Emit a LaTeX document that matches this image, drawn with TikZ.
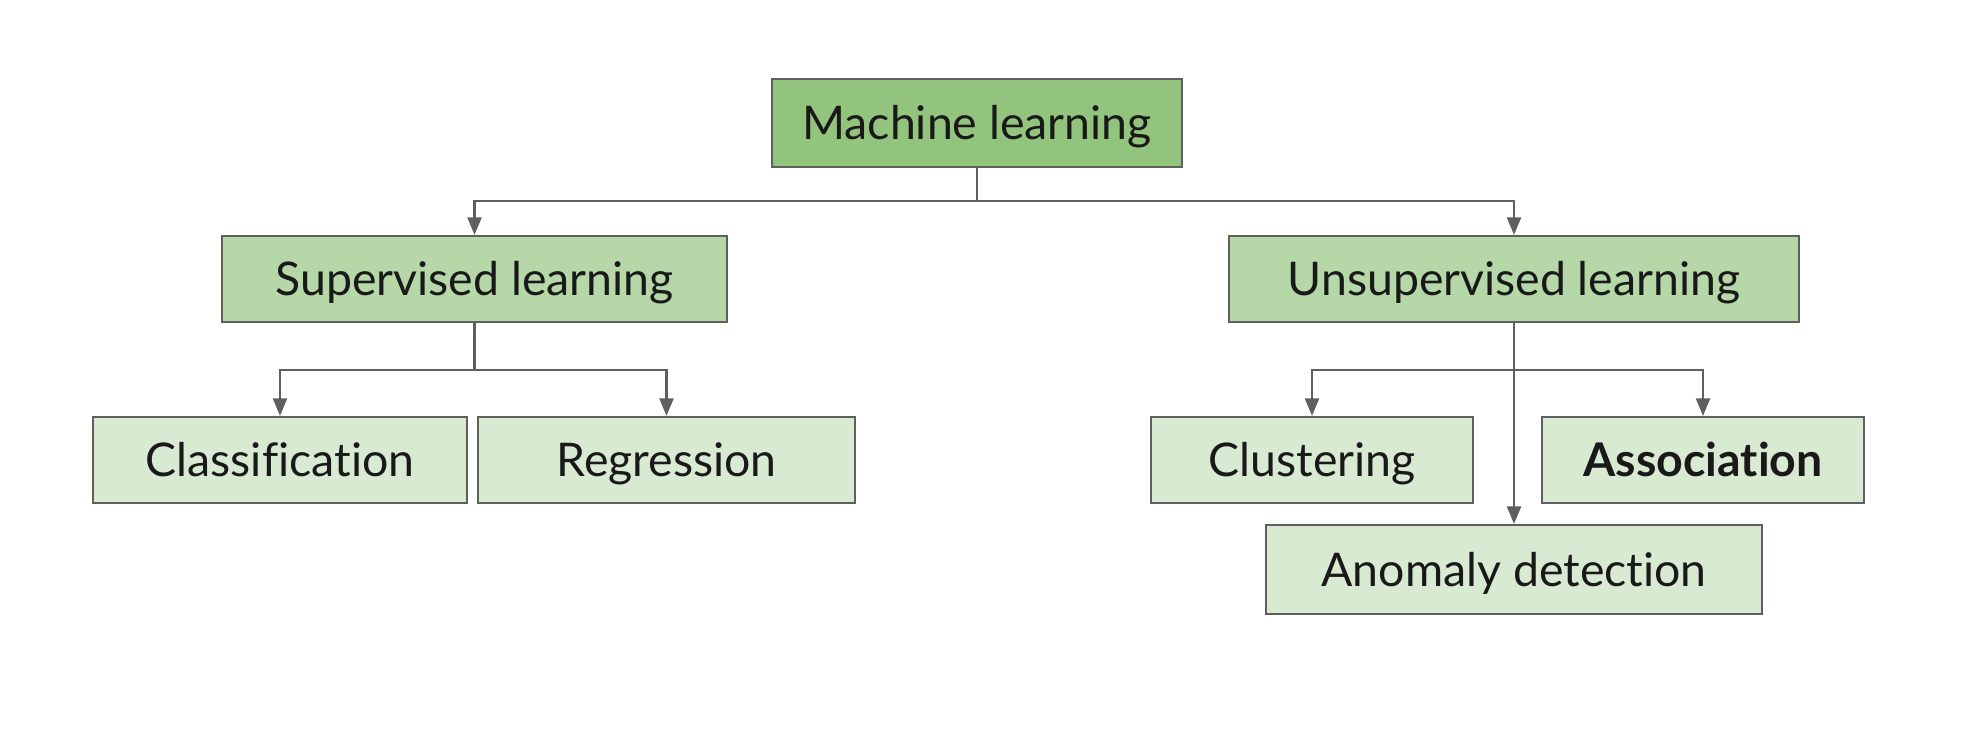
\documentclass[tikz,border=0pt]{standalone}
\usepackage{fontspec}
\setmainfont{Lato}[Ligatures=NoCommon]
\usepackage{tikz}
\usetikzlibrary{arrows.meta}

\definecolor{mlgreen}{HTML}{93C47D}
\definecolor{midgreen}{HTML}{B6D7A8}
\definecolor{leafgreen}{HTML}{D9EAD3}
\definecolor{edgegray}{HTML}{5F5F5F}

\begin{document}
\begin{tikzpicture}[x=0.01cm,y=0.01cm,
    box/.style={draw=edgegray, line width=0.6pt, rectangle, inner sep=0pt,
                minimum height=0.86cm, text height=9.4pt, text depth=0pt,
                font=\fontsize{13.2}{16}\selectfont, text=black!90},
    arr/.style={draw=edgegray, line width=0.6pt, -{Triangle[width=4pt,length=5pt]}}]
   \useasboundingbox (0,0) rectangle (1988,732);

   \node[box, fill=mlgreen, minimum width=4.10cm, minimum height=0.88cm] (ml) at (977,609) {Machine learning};

   \node[box, fill=midgreen, minimum width=5.05cm] (sup) at (474.5,453) {Supervised learning};
   \node[box, fill=midgreen, minimum width=5.70cm] (unsup) at (1514,453) {Unsupervised learning};

   \node[box, fill=leafgreen, minimum width=3.74cm] (class) at (280,272) {Classification};
   \node[box, fill=leafgreen, minimum width=3.77cm] (regr) at (666.5,272) {Regression};
   \node[box, fill=leafgreen, minimum width=3.22cm] (clust) at (1312,272) {Clustering};
   \node[box, fill=leafgreen, minimum width=3.22cm] (assoc) at (1703,272) {\bfseries Association};
   \node[box, fill=leafgreen, minimum width=4.95cm, minimum height=0.89cm] (anom) at (1514,162.5) {Anomaly detection};

   \draw[arr] (ml.south) -- ++(0,-33) -| (sup.north);
   \draw[arr] (ml.south) -- ++(0,-33) -| (unsup.north);

   \draw[arr] (sup.south) -- ++(0,-47) -| (class.north);
   \draw[arr] (sup.south) -- ++(0,-47) -| (regr.north);

   \draw[arr] (unsup.south) -- ++(0,-47) -| (clust.north);
   \draw[arr] (unsup.south) -- ++(0,-47) -| (assoc.north);
   \draw[arr] (unsup.south) -- (anom.north);
 \end{tikzpicture}
\end{document}
